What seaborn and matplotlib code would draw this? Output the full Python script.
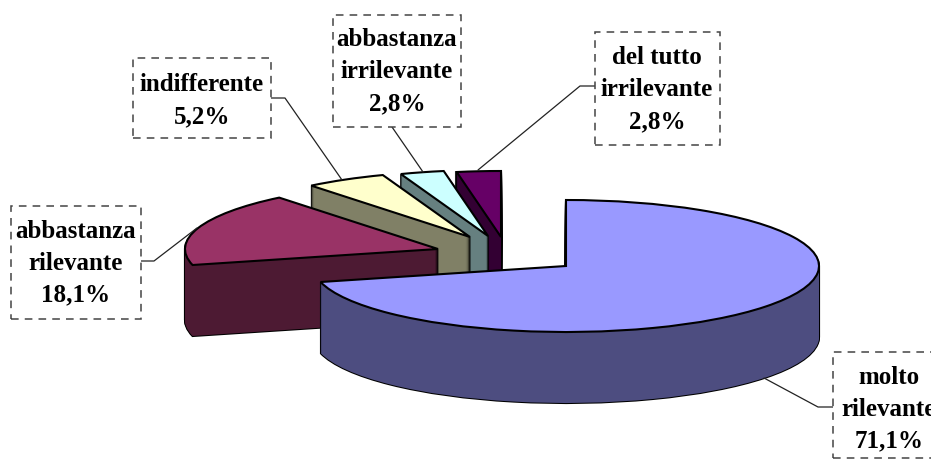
import numpy as np
import matplotlib
matplotlib.use('Agg')
import matplotlib.pyplot as plt
from matplotlib.patches import Rectangle
import seaborn as sns

# data
categories = ['molto\nrilevante', 'abbastanza\nrilevante', 'indifferente',
              'abbastanza\nirrilevante', 'del tutto\nirrilevante']
values = [71.1, 18.1, 5.2, 2.8, 2.8]
value_labels = ['71,1%', '18,1%', '5,2%', '2,8%', '2,8%']

top_colors = sns.color_palette(['#9999FF', '#993366', '#FFFFCC', '#CCFFFF', '#660066'])
side_colors = sns.color_palette(['#4D4D80', '#4D1A33', '#808066', '#668080', '#330033'])

# layout, in image pixels
W, H = 931, 462
RX, RY = 253, 66
DEPTH = 71
PIE_X, PIE_Y = 566, 266
slice_shift = [(0, 0), (-128, -17), (-96, -29), (-78, -30), (-65, -29)]
draw_order = [4, 3, 2, 1, 0]  # back to front
boxes = [(833, 352, 130, 106), (11, 206, 130, 113), (133, 58, 138, 80),
         (333, 15, 128, 112), (595, 32, 125, 113)]
text_centers = [(889, 409), (76, 263), (202, 101), (397, 72), (657, 90)]
leaders = [
    ([833, 818, 764], [407, 407, 378]),
    ([141, 154, 197], [261, 261, 228]),
    ([271, 285, 342], [98, 98, 180]),
    ([392, 423], [127, 172]),
    ([595, 580, 478], [86, 86, 170]),
]

sns.set_style('white')
plt.rcParams['font.family'] = ['Liberation Serif', 'DejaVu Serif']

fig = plt.figure(figsize=(W / 100, H / 100), dpi=100)
ax = fig.add_axes([0, 0, 1, 1])

scale_y = RX / RY  # squash the circle into the pie's ellipse


def Y(py):
    return (H - py) * scale_y


def pie_layer(offset, colors, edge, lw, z):
    # one flat copy of the whole pie, each slice moved to its exploded place
    wedges, _ = ax.pie(values, colors=colors, radius=RX, startangle=90, counterclock=False,
                       wedgeprops={'edgecolor': edge, 'linewidth': lw})
    for i, w in enumerate(wedges):
        dx, dy = slice_shift[i]
        w.set_center((PIE_X + dx, Y(PIE_Y + dy + offset)))
        w.set_zorder(draw_order.index(i) * 10 + z)


for d in range(1, DEPTH + 1):
    pie_layer(d, ['black'] * 5, 'black', 1.5, 1)
    pie_layer(d, side_colors, 'none', 0, 2)
pie_layer(0, top_colors, 'black', 1.5, 3)

# corner of the maroon slice where the cut face meets the curved side
start = 360 * values[0] / sum(values)
corner_x = PIE_X + slice_shift[1][0] + RX * np.sin(np.radians(start))
corner_y = PIE_Y + slice_shift[1][1] - RY * np.cos(np.radians(start))
ax.plot([corner_x, corner_x], [Y(corner_y), Y(corner_y + DEPTH)], color='black', lw=1.3, zorder=14)

for i, (lx, ly) in enumerate(leaders):
    ax.plot(lx, [Y(p) for p in ly], color='#222222', lw=0.9, zorder=60)

for i, cat in enumerate(categories):
    x, y, w, h = boxes[i]
    ax.add_patch(Rectangle((x, Y(y + h)), w, h * scale_y, facecolor='white', edgecolor='#444444',
                           linewidth=1.1, linestyle=(0, (5, 4)), zorder=70))
    cx, cy = text_centers[i]
    ax.text(cx, Y(cy), cat + '\n' + value_labels[i], ha='center', va='center', fontsize=18,
            fontweight='bold', color='black', linespacing=1.5, zorder=71)

ax.set_aspect('auto')
ax.set_xlim(0, W)
ax.set_ylim(0, H * scale_y)
ax.axis('off')

fig.savefig('out.png', dpi=100, facecolor='white')
